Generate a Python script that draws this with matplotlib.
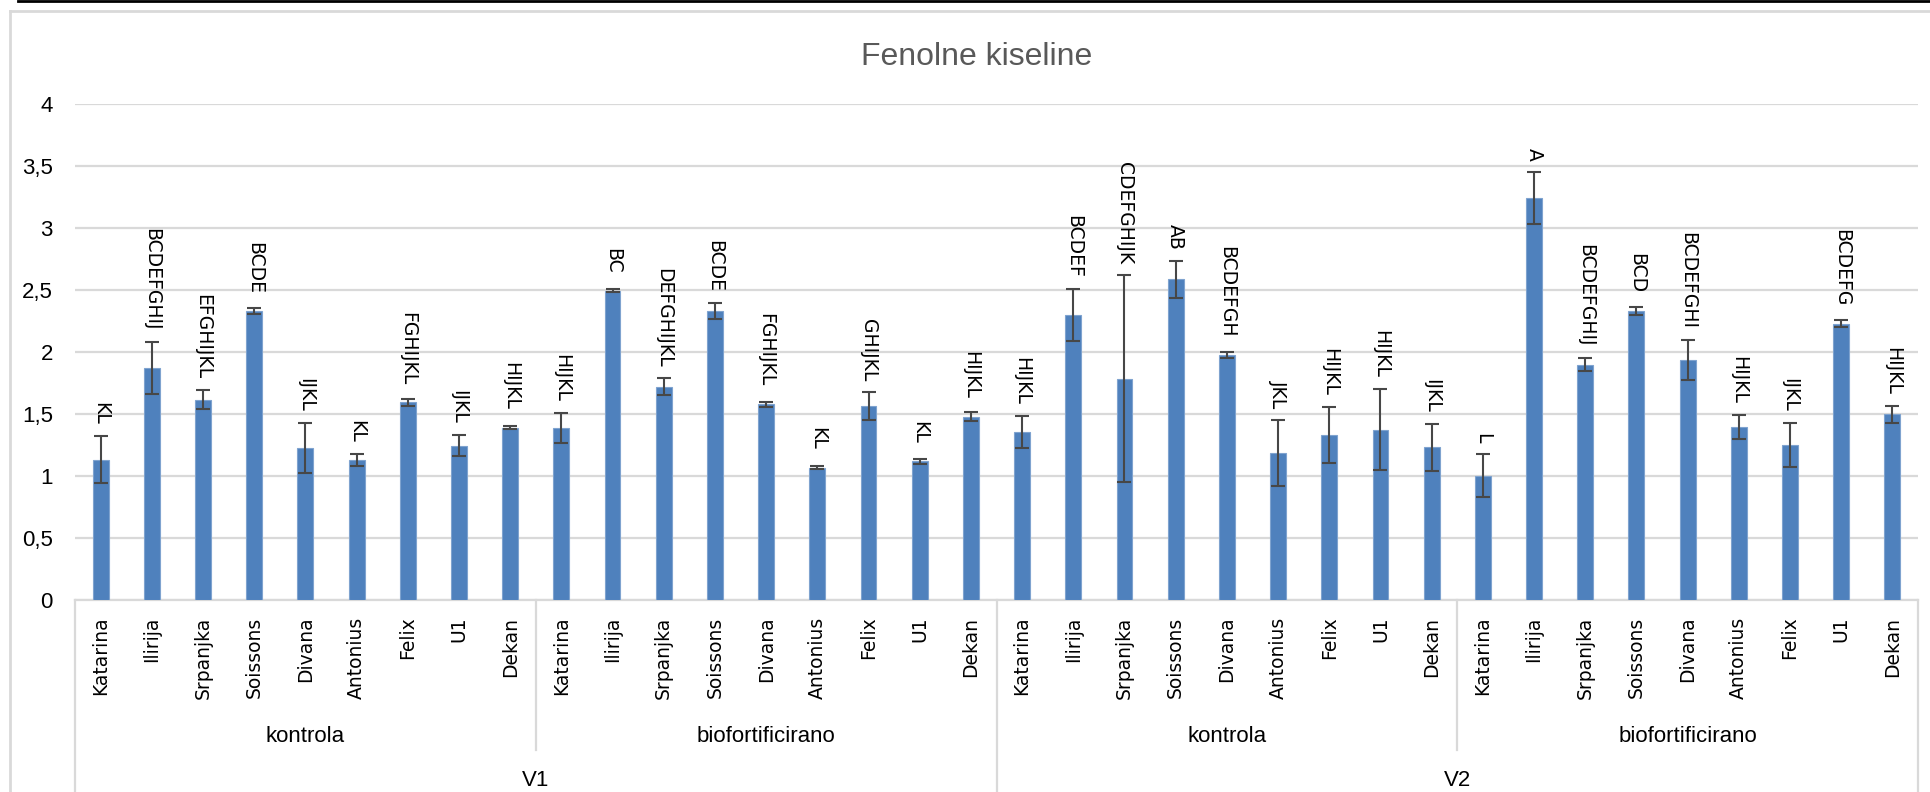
#!/usr/bin/env python

import matplotlib

matplotlib.use("Agg")
import matplotlib.pyplot as plt
import matplotlib.transforms as mtransforms
from matplotlib.lines import Line2D
import numpy as np

# data
cultivars = ["Katarina", "Ilirija", "Srpanjka", "Soissons", "Divana",
             "Antonius", "Felix", "U1", "Dekan"]
treatments = ["kontrola", "biofortificirano"]
years = ["V1", "V2"]

means = [1.13, 1.87, 1.615, 2.33, 1.225, 1.13, 1.595, 1.245, 1.39,
         1.39, 2.495, 1.72, 2.33, 1.58, 1.068, 1.565, 1.117, 1.478,
         1.355, 2.298, 1.785, 2.585, 1.976, 1.188, 1.331, 1.373, 1.231,
         1.002, 3.242, 1.898, 2.333, 1.935, 1.395, 1.25, 2.228, 1.497]
errors = [0.19, 0.21, 0.078, 0.022, 0.2, 0.05, 0.03, 0.085, 0.01,
          0.12, 0.01, 0.067, 0.062, 0.02, 0.015, 0.11, 0.017, 0.035,
          0.126, 0.207, 0.836, 0.147, 0.028, 0.266, 0.223, 0.325, 0.188,
          0.173, 0.213, 0.054, 0.033, 0.163, 0.093, 0.178, 0.03, 0.068]
letters = ["KL", "BCDEFGHIJ", "EFGHIJKL", "BCDE", "IJKL", "KL", "FGHIJKL", "IJKL", "HIJKL",
           "HIJKL", "BC", "DEFGHIJKL", "BCDE", "FGHIJKL", "KL", "GHIJKL", "KL", "HIJKL",
           "HIJKL", "BCDEF", "CDEFGHIJK", "AB", "BCDEFGH", "JKL", "HIJKL", "HIJKL", "IJKL",
           "L", "A", "BCDEFGHIJ", "BCD", "BCDEFGHI", "HIJKL", "IJKL", "BCDEFG", "HIJKL"]

y_ticks = [0, 0.5, 1, 1.5, 2, 2.5, 3, 3.5, 4]
y_tick_labels = ["0", "0,5", "1", "1,5", "2", "2,5", "3", "3,5", "4"]

W, H = 1930, 792
GRID = "#D9D9D9"
BAR = "#4F81BD"

fig = plt.figure(figsize=(W / 100, H / 100), dpi=100)
ax = fig.add_axes([75 / W, (H - 600) / H, 1843 / W, 496 / H])

x = np.arange(len(means))
ax.bar(x, means, width=0.31, color=BAR, edgecolor="#7FA3CF", linewidth=0.8, zorder=3)
ax.errorbar(x, means, yerr=errors, fmt="none", ecolor="#474747",
            elinewidth=1.5, capsize=5, capthick=1.5, zorder=4)

# significance letters above bars
for xi, m, e, lab in zip(x, means, errors, letters):
    y_lab = max(m + 0.14, m + e + 0.09)
    ax.text(xi, y_lab, lab, rotation=270, ha="center", va="bottom",
            fontsize=13.5, family="DejaVu Sans", color="black", zorder=5)

ax.set_xlim(-0.5, len(means) - 0.5)
ax.set_ylim(0, 4)
ax.set_yticks(y_ticks)
ax.set_yticklabels(y_tick_labels, family="Liberation Sans", fontsize=16)
ax.yaxis.grid(True, color=GRID, linewidth=1.6, zorder=0)
ax.set_axisbelow(True)
ax.tick_params(axis="y", length=0, pad=16)

ax.set_xticks(x)
ax.set_xticklabels(cultivars * (len(treatments) * len(years)), rotation=90,
                   family="DejaVu Sans", fontsize=13.5, va="top")
ax.tick_params(axis="x", length=0, pad=12)

for s in ["top", "right", "left"]:
    ax.spines[s].set_visible(False)
ax.spines["bottom"].set_color(GRID)
ax.spines["bottom"].set_linewidth(1.6)

# multi-level category separators and labels
trans = mtransforms.blended_transform_factory(ax.transData, ax.transAxes)
n_cult = len(cultivars)
n_year = n_cult * len(treatments)
y_sep_short = -(750 - 600) / 496
y_bottom = -(H - 600) / 496
for k in range(len(years) * len(treatments) + 1):
    xs = k * n_cult - 0.5
    y_end = y_bottom if k % len(treatments) == 0 else y_sep_short
    ax.plot([xs, xs], [0, y_end], color=GRID, linewidth=1.6,
            transform=trans, clip_on=False)

for yi, year in enumerate(years):
    for ti, tr in enumerate(treatments):
        xc = yi * n_year + ti * n_cult + (n_cult - 1) / 2
        ax.text(xc, -(737 - 600) / 496, tr, transform=trans, ha="center",
                va="center", family="Liberation Sans", fontsize=16)
    xc = yi * n_year + (n_year - 1) / 2
    ax.text(xc, -(781 - 600) / 496, year, transform=trans, ha="center",
            va="center", family="Liberation Sans", fontsize=16)

# title and chart frame
fig.text(977 / W, 1 - 57 / H, "Fenolne kiseline", ha="center", va="center",
         family="Liberation Sans", fontsize=23, color="#595959")
fig.add_artist(Line2D([10 / W, 10 / W], [0, 1 - 11 / H], color=GRID,
                      linewidth=2, transform=fig.transFigure))
fig.add_artist(Line2D([10 / W, 1], [1 - 11 / H, 1 - 11 / H], color=GRID,
                      linewidth=2, transform=fig.transFigure))
fig.add_artist(Line2D([18 / W, 1], [1 - 1 / H, 1 - 1 / H], color="black",
                      linewidth=2, transform=fig.transFigure))

fig.savefig("out.png", dpi=100)
